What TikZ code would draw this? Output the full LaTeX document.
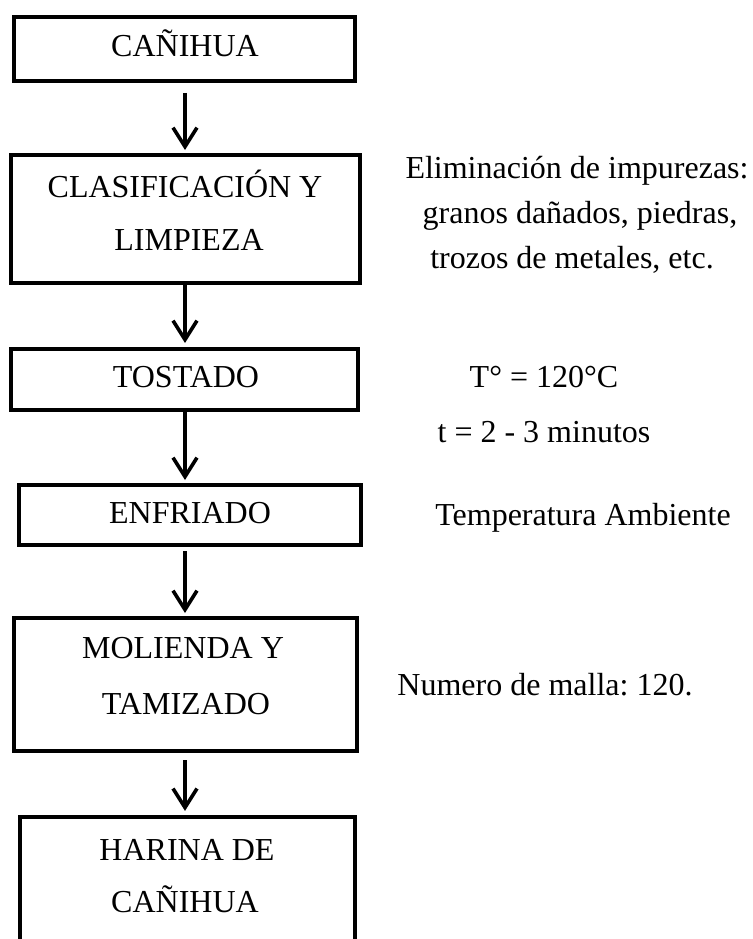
\documentclass[tikz,border=0pt]{standalone}
\usepackage{fontspec}
\setmainfont{Liberation Serif}
\usetikzlibrary{arrows.meta}
\frenchspacing
\begin{document}
\begin{tikzpicture}[x=1pt,y=-1pt,
  box/.style={draw=black,line width=4.2pt,rectangle,inner sep=0pt},
  txt/.style={anchor=base,inner sep=0pt,font=\fontsize{32}{38}\selectfont},
  arr/.style={line width=3.6pt,-{Straight Barb[length=19pt,width=24pt]}}]
\fill[white] (0,0) rectangle (752,939);
\useasboundingbox (0,0) rectangle (752,939);
\clip (0,0) rectangle (752,939);
\coordinate (ax) at (185,0);
% boxes
\node[box,minimum width=340.8pt,minimum height=63.8pt] (n1) at (184.5,49) {};
\node[box,minimum width=348.8pt,minimum height=127.8pt] (n2) at (185.5,219) {};
\node[box,minimum width=346.8pt,minimum height=60.8pt] (n3) at (184.5,379.5) {};
\node[box,minimum width=341.8pt,minimum height=59.8pt] (n4) at (190,515) {};
\node[box,minimum width=342.8pt,minimum height=132.8pt] (n5) at (185.5,684.5) {};
\node[box,minimum width=334.8pt,minimum height=160pt] (n6) at (187.5,897) {};
% box texts
\node[txt] (t1) at (185,57) {CAÑIHUA};
\node[txt] (t2a) at (185,197) {CLASIFICACIÓN Y};
\node[txt] (t2b) at (189,250) {LIMPIEZA};
\node[txt] (t3) at (186,387) {TOSTADO};
\node[txt] (t4) at (190,523) {ENFRIADO};
\node[txt] (t5a) at (183,658) {MOLIENDA Y};
\node[txt] (t5b) at (186,714) {TAMIZADO};
\node[txt] (t6a) at (187,860) {HARINA DE};
\node[txt] (t6b) at (185,912) {CAÑIHUA};
% side notes
\node[txt] (c1) at (577,178) {Eliminación de impurezas:};
\node[txt] (c2) at (580,223) {granos dañados, piedras,};
\node[txt] (c3) at (572,268) {trozos de metales, etc.};
\node[txt] (c4) at (544,387) {T° = 120°C};
\node[txt] (c5) at (544,442) {t = 2 - 3 minutos};
\node[txt] (c6) at (583,525) {Temperatura Ambiente};
\node[txt] (c7) at (545,695) {Numero de malla: 120.};
% arrows
\draw[arr,shorten <=10pt,shorten >=3pt] (n1.south -| ax) -- (n2.north -| ax);
\draw[arr,shorten >=4pt] (n2.south -| ax) -- (n3.north -| ax);
\draw[arr,shorten >=3pt] (n3.south -| ax) -- (n4.north -| ax);
\draw[arr,shorten <=4pt,shorten >=3pt] (n4.south -| ax) -- (n5.north -| ax);
\draw[arr,shorten <=7pt,shorten >=4pt] (n5.south -| ax) -- (n6.north -| ax);
\end{tikzpicture}
\end{document}
